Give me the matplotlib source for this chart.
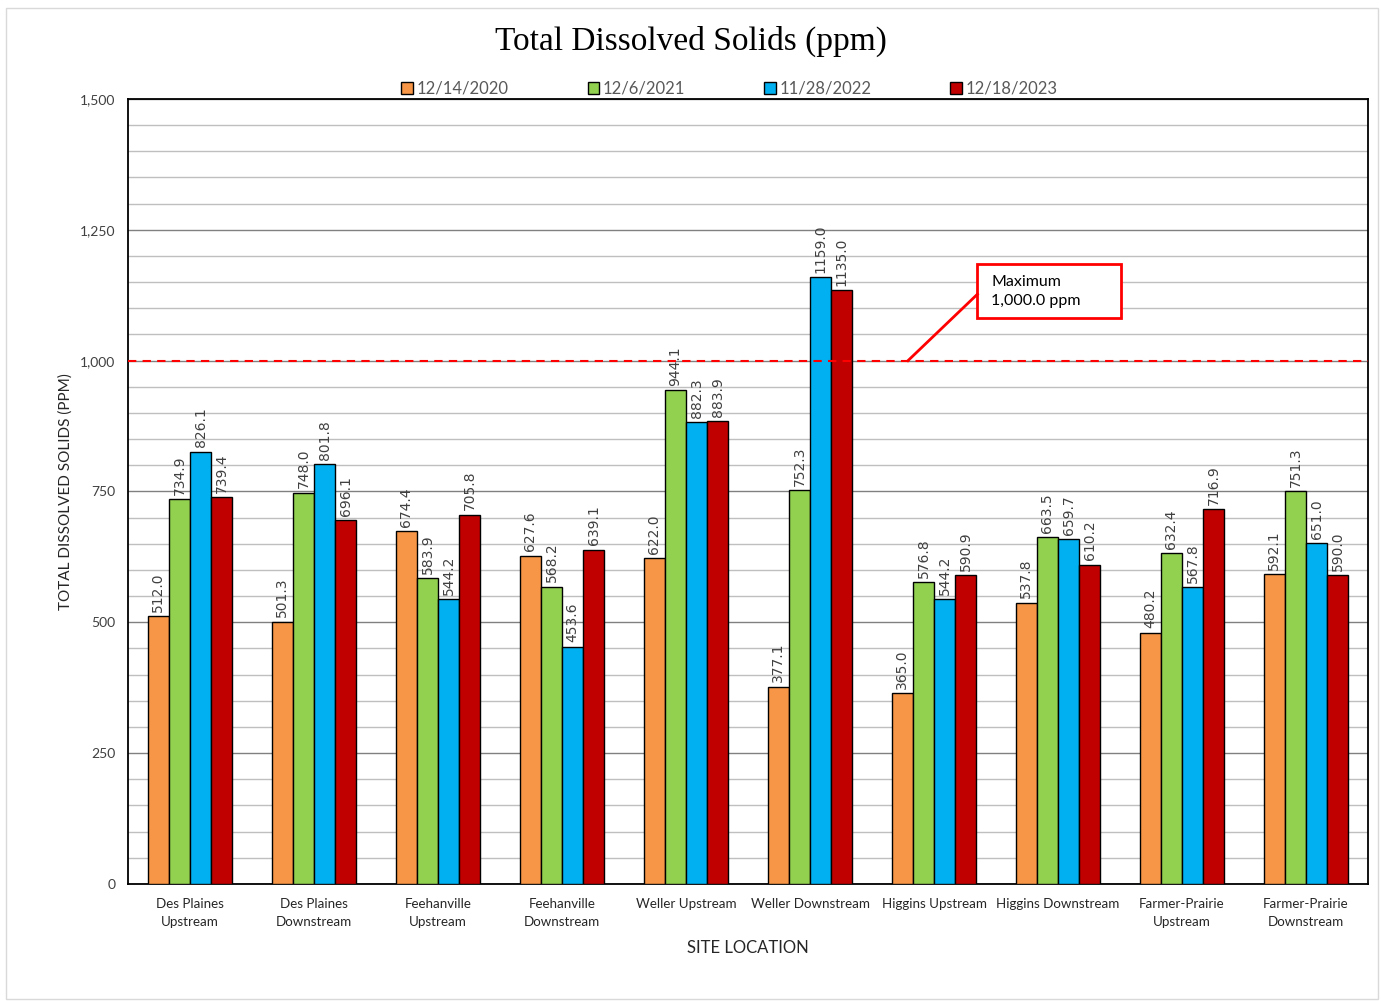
import numpy as np
import matplotlib
matplotlib.use("Agg")
import matplotlib.pyplot as plt
from matplotlib.patches import Rectangle

# data
sites = ["Des Plaines\nUpstream", "Des Plaines\nDownstream", "Feehanville\nUpstream",
         "Feehanville\nDownstream", "Weller Upstream", "Weller Downstream",
         "Higgins Upstream", "Higgins Downstream", "Farmer-Prairie\nUpstream",
         "Farmer-Prairie\nDownstream"]
dates = ["12/14/2020", "12/6/2021", "11/28/2022", "12/18/2023"]
tds_2020 = [512.0, 501.3, 674.4, 627.6, 622.0, 377.1, 365.0, 537.8, 480.2, 592.1]
tds_2021 = [734.9, 748.0, 583.9, 568.2, 944.1, 752.3, 576.8, 663.5, 632.4, 751.3]
tds_2022 = [826.1, 801.8, 544.2, 453.6, 882.3, 1159.0, 544.2, 659.7, 567.8, 651.0]
tds_2023 = [739.4, 696.1, 705.8, 639.1, 883.9, 1135.0, 590.9, 610.2, 716.9, 590.0]
max_limit = 1000.0

series = [tds_2020, tds_2021, tds_2022, tds_2023]
colors = ["#F79646", "#92D050", "#00B0F0", "#C00000"]

plt.rcParams['font.family'] = ['Lato', 'DejaVu Sans']

fig = plt.figure(figsize=(13.81, 10.01), dpi=100)
ax = fig.add_axes([0.0927, 0.1169, 0.8979, 0.7842])

# outer chart border
fig.patches.append(Rectangle((0.004, 0.002), 0.994, 0.99, transform=fig.transFigure,
                             fill=False, edgecolor="#D9D9D9", lw=1))

x = np.arange(len(sites))
w = 0.17
for i, (vals, c, lab) in enumerate(zip(series, colors, dates)):
    pos = x + (i - 1.5) * w
    ax.bar(pos, vals, width=w, color=c, edgecolor="black", linewidth=1.0,
           label=lab, zorder=3)
    for p, v in zip(pos, vals):
        ax.text(p, v + 8, f"{v:.1f}", rotation=90, ha="center", va="bottom",
                fontsize=10, color="#404040", family=["DejaVu Sans"], zorder=4)

ax.set_xlim(-0.5, len(sites) - 0.5)
ax.set_ylim(0, 1500)
ax.set_yticks(np.arange(0, 1501, 250))
ax.set_yticklabels([f"{int(v):,}" for v in np.arange(0, 1501, 250)], fontsize=10,
                   color="#404040")
ax.set_yticks(np.arange(0, 1501, 50), minor=True)
ax.yaxis.grid(True, which="minor", color="#BFBFBF", lw=1, zorder=0)
ax.yaxis.grid(True, which="major", color="#808080", lw=1, zorder=0)
ax.tick_params(axis="y", which="both", length=0, pad=9)
ax.set_xticks(x)
ax.set_xticklabels(sites, fontsize=9.6, color="#262626", linespacing=1.6)
ax.tick_params(axis="x", length=0, pad=10)
for s in ax.spines.values():
    s.set_color("black")
    s.set_linewidth(1.3)

ax.axhline(max_limit, color="#FF0000", ls=(0, (4, 3)), lw=1.5, zorder=5, clip_on=False)

# callout for the limit
ax.add_patch(Rectangle((6.35, 1081.5), 1.16, 103.2, fc="white", ec="#FF0000",
                       lw=2, zorder=6))
ax.plot([6.35, 5.79], [1127, max_limit], color="#FF0000", lw=2, zorder=6)
ax.text(6.46, 1133, "Maximum\n1,000.0 ppm", fontsize=11.5, ha="left", va="center",
        linespacing=1.45, color="black", zorder=7)

ax.set_xlabel("SITE LOCATION", fontsize=12, color="#262626", labelpad=9)
ax.set_ylabel("TOTAL DISSOLVED SOLIDS (PPM)", fontsize=11, color="#262626", labelpad=5)

fig.text(0.5, 0.959, "Total Dissolved Solids (ppm)", ha="center", va="center",
         fontsize=24, family=["Liberation Serif"], color="black")

leg = ax.legend(loc="lower center", bbox_to_anchor=(0.485, 0.99), ncol=4,
                frameon=False, fontsize=12, handlelength=0.7, handleheight=0.7,
                handletextpad=0.2, columnspacing=4.75, borderaxespad=0.2)
for t in leg.get_texts():
    t.set_color("#595959")

fig.savefig("out.png", dpi=100)
